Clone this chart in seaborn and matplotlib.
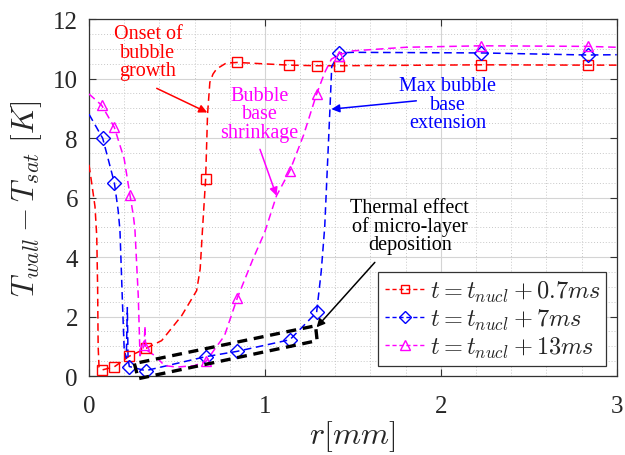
import numpy as np
import pandas as pd
import matplotlib
matplotlib.use("Agg")
import matplotlib.pyplot as plt
import seaborn as sns
from matplotlib.lines import Line2D
from matplotlib.patches import Polygon
from matplotlib.ticker import MultipleLocator

# ---------------- data ----------------
# t = t_nucl + 0.7 ms  (red, squares)
red_r = [0.0, 0.015, 0.034, 0.044, 0.049, 0.052, 0.057, 0.072, 0.144, 0.227, 0.324,
         0.413, 0.527, 0.612, 0.632, 0.645, 0.663, 0.674, 0.687, 0.705, 0.725, 0.78,
         0.843, 1.138, 1.294, 1.422, 2.231, 2.839, 3.0]
red_T = [7.1, 6.5, 5.7, 4.7, 3.0, 1.0, 0.3, 0.2, 0.31, 0.66, 0.93,
         1.19, 2.03, 2.87, 3.6, 4.9, 6.62, 8.8, 9.87, 10.15, 10.32, 10.52,
         10.54, 10.45, 10.43, 10.43, 10.46, 10.45, 10.45]
red_mr = [0.072, 0.144, 0.227, 0.324, 0.663, 0.843, 1.138, 1.294, 1.422, 2.231, 2.839]
red_mT = [0.2, 0.31, 0.66, 0.93, 6.62, 10.54, 10.45, 10.43, 10.43, 10.46, 10.45]

# t = t_nucl + 7 ms  (blue, diamonds)
blue_r = [0.0, 0.078, 0.144, 0.165, 0.176, 0.19, 0.2, 0.212, 0.218, 0.222, 0.229,
          0.322, 0.663, 0.843, 1.142, 1.294, 1.32, 1.34, 1.355, 1.37, 1.38, 1.422,
          1.5, 2.231, 2.839, 3.0]
blue_T = [8.8, 7.99, 6.5, 5.6, 4.9, 2.5, 0.9, 0.6, 2.3, 0.6, 0.32,
          0.18, 0.65, 0.83, 1.22, 2.14, 3.5, 5.0, 7.0, 9.0, 10.4, 10.86,
          10.88, 10.86, 10.79, 10.8]
blue_mr = [0.078, 0.144, 0.229, 0.322, 0.663, 0.843, 1.142, 1.294, 1.422, 2.231, 2.839]
blue_mT = [7.99, 6.5, 0.32, 0.18, 0.65, 0.83, 1.22, 2.14, 10.86, 10.86, 10.79]

# t = t_nucl + 13 ms  (magenta, triangles)
mag_r = [0.0, 0.072, 0.144, 0.2, 0.233, 0.252, 0.261, 0.28, 0.29, 0.305, 0.314,
         0.318, 0.322, 0.345, 0.375, 0.43, 0.5, 0.6, 0.668, 0.72, 0.77, 0.843,
         0.93, 1.0, 1.066, 1.142, 1.22, 1.294, 1.34, 1.378, 1.422, 1.5, 1.8,
         2.231, 2.839, 3.0]
mag_T = [9.48, 9.1, 8.36, 7.3, 6.08, 5.4, 4.94, 2.7, 0.68, 0.9, 1.04,
         1.69, 0.9, 0.8, 0.68, 0.35, 0.3, 0.35, 0.51, 0.95, 1.35, 2.62,
         3.9, 4.85, 6.06, 6.9, 8.1, 9.48, 10.2, 10.65, 10.8, 10.93, 11.05,
         11.1, 11.08, 11.05]
mag_mr = [0.072, 0.144, 0.233, 0.314, 0.668, 0.843, 1.142, 1.294, 1.422, 2.231, 2.839]
mag_mT = [9.1, 8.36, 6.08, 1.04, 0.51, 2.62, 6.9, 9.48, 10.75, 11.1, 11.08]

labels = [r"$t = t_{nucl} + 0.7ms$", r"$t = t_{nucl} + 7ms$", r"$t = t_{nucl} + 13ms$"]
colors = ["#ff0000", "#0000ff", "#ff00ff"]
markers = ["s", "D", "^"]

x_ticks = [0, 1, 2, 3]
y_ticks = [0, 2, 4, 6, 8, 10, 12]

# annotation texts / positions (data coords)
ann_texts = ["Onset of\nbubble\ngrowth", "Bubble\nbase\nshrinkage",
             "Max bubble\nbase\nextension", "Thermal effect\nof micro-layer\ndeposition"]
ann_text_xy = [(0.335, 10.89), (0.97, 8.81), (2.04, 9.14), (1.824, 5.05)]
ann_arrow_from = [(0.385, 9.67), (0.972, 7.62), (1.861, 9.25), (1.625, 3.82)]
ann_arrow_to = [(0.672, 8.86), (1.066, 6.06), (1.378, 8.97), (1.294, 1.64)]
ann_colors = ["#ff0000", "#ff00ff", "#0000ff", "#000000"]
box_corners = [(0.258, 0.42), (0.28, -0.09), (1.297, 1.19), (1.288, 1.69)]

# ---------------- style ----------------
sns.set_style("ticks")
plt.rcParams["font.family"] = ["Liberation Serif", "DejaVu Serif"]
plt.rcParams["mathtext.fontset"] = "cm"

fig = plt.figure(figsize=(6.25, 4.56), dpi=100)
ax = fig.add_axes([0.1424, 0.1732, 0.8443, 0.7829])

series = [(red_r, red_T, red_mr, red_mT), (blue_r, blue_T, blue_mr, blue_mT),
          (mag_r, mag_T, mag_mr, mag_mT)]
msizes = [6.5, 7.0, 7.5]
for (lr, lT, mr, mT), c, m, ms in zip(series, colors, markers, msizes):
    sns.lineplot(x=lr, y=lT, sort=False, estimator=None, color=c, ax=ax,
                 linewidth=1.1, linestyle="--", dashes=None, zorder=3)
    ax.lines[-1].set_dashes([5, 3])
    sns.lineplot(x=mr, y=mT, sort=False, estimator=None, ax=ax, color=c,
                 linestyle="none", marker=m, markersize=ms, markerfacecolor="none",
                 markeredgecolor=c, markeredgewidth=1.0, zorder=4)

ax.set_xlim(0, 3)
ax.set_ylim(0, 12)
ax.set_xticks(x_ticks)
ax.set_yticks(y_ticks)
ax.xaxis.set_minor_locator(MultipleLocator(0.2))
ax.yaxis.set_minor_locator(MultipleLocator(0.5))
ax.grid(which="major", color="#d4d4d4", linewidth=0.8, linestyle="-", zorder=0)
ax.grid(which="minor", color="#c8c8c8", linewidth=0.7, linestyle=(0, (1, 2)), zorder=0)
ax.set_axisbelow(True)
ax.tick_params(which="major", direction="in", top=True, right=True, length=5,
               width=0.8, color="#333333", labelsize=18, labelcolor="#262626")
ax.tick_params(axis="x", which="major", pad=14)
ax.tick_params(axis="y", which="major", pad=8)
ax.tick_params(which="minor", length=0)
for s in ax.spines.values():
    s.set_color("#333333")
    s.set_linewidth(0.9)

ax.set_xlabel(r"$r[mm]$", fontsize=23, color="#262626")
ax.set_ylabel(r"$T_{wall} - T_{sat}\ [K]$", fontsize=22.5, color="#262626")
ax.xaxis.set_label_coords(0.498, -0.118)
ax.yaxis.set_label_coords(-0.085, 0.5)

# annotations
for t, xy, p0, p1, c in zip(ann_texts, ann_text_xy, ann_arrow_from, ann_arrow_to, ann_colors):
    ax.text(xy[0], xy[1], t, color=c, fontsize=14.5, ha="center", va="center",
            linespacing=0.95, zorder=6)
    ax.annotate("", xy=p1, xytext=p0,
                arrowprops=dict(arrowstyle="-|>", color=c, lw=1.1,
                                mutation_scale=12, shrinkA=0, shrinkB=0), zorder=6)

ax.add_patch(Polygon(box_corners, closed=True, fill=False, edgecolor="black",
                     linewidth=2.4, linestyle=(0, (3, 2)), clip_on=False, zorder=5))

handles = [Line2D([], [], color=c, linestyle="--", dashes=[3, 2], linewidth=1.0,
                  marker=m, markersize=ms * 0.9, markerfacecolor="none",
                  markeredgecolor=c, markeredgewidth=1.0)
           for c, m, ms in zip(colors, markers, msizes)]
leg = ax.legend(handles, labels, loc="lower right", fontsize=17.5, frameon=True,
                fancybox=False, edgecolor="#333333", framealpha=1,
                handlelength=1.7, handletextpad=0.15, labelspacing=0.12,
                borderpad=0.25, borderaxespad=0.42)
leg.get_frame().set_linewidth(0.9)

fig.savefig("out.png", dpi=100)
